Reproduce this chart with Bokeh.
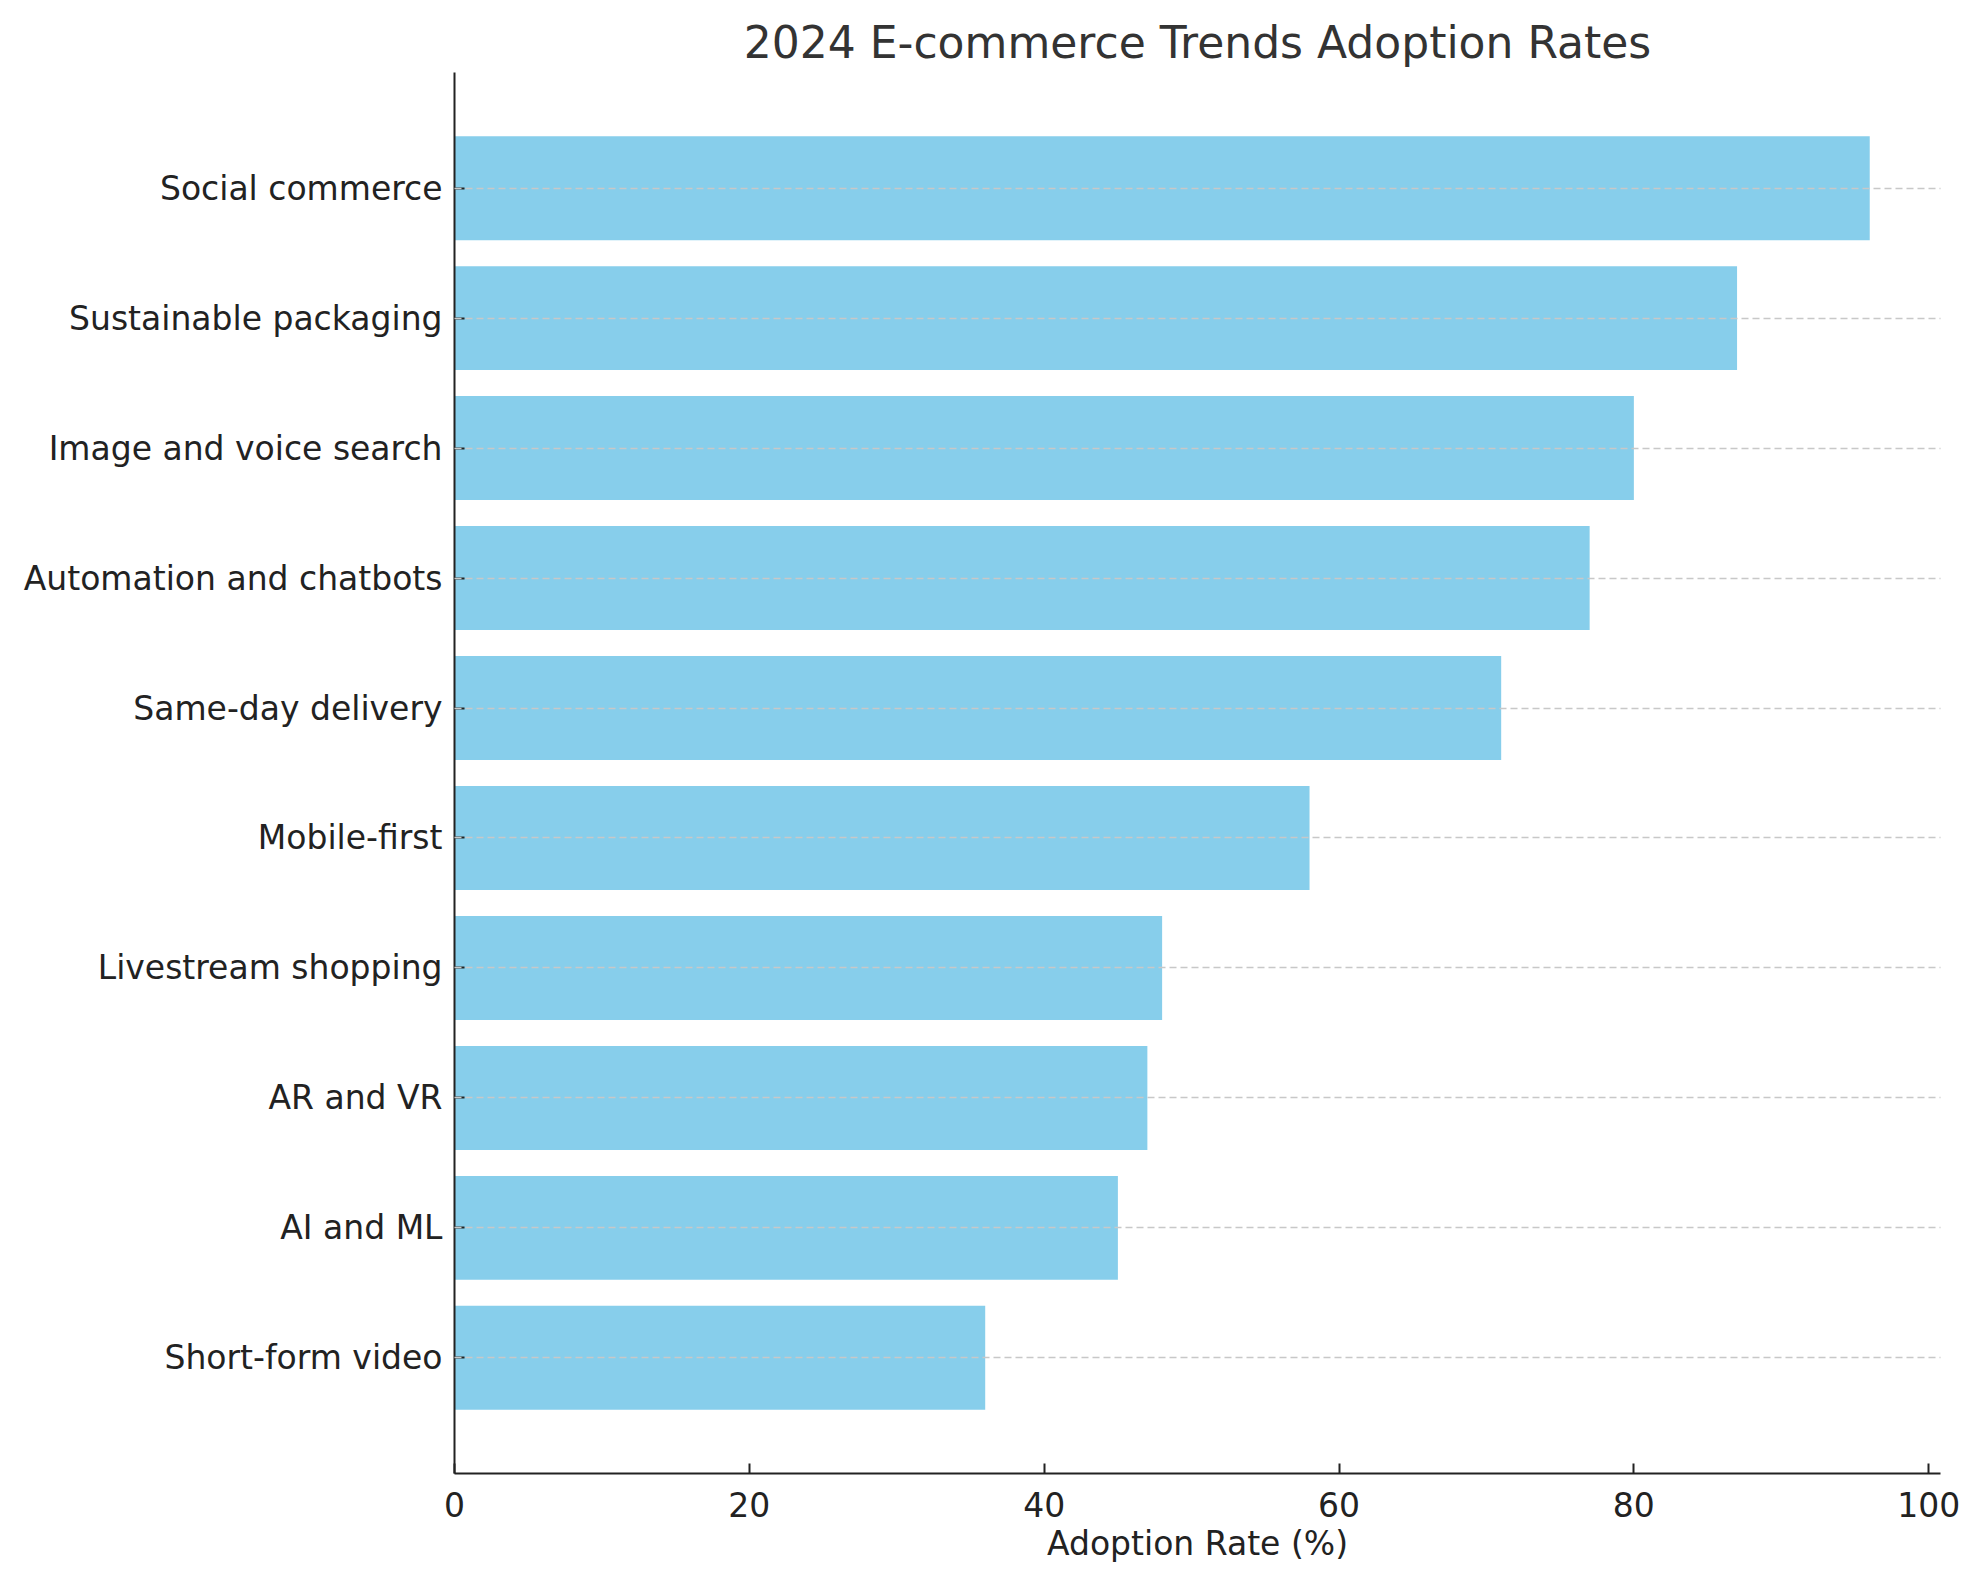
from bokeh.plotting import figure
from bokeh.models import FactorRange, Range1d, FixedTicker
from bokeh.embed import file_html
from bokeh.resources import INLINE

# data, listed from bottom bar to top bar
trends = ["Short-form video", "AI and ML", "AR and VR", "Livestream shopping",
          "Mobile-first", "Same-day delivery", "Automation and chatbots",
          "Image and voice search", "Sustainable packaging", "Social commerce"]
adoption = [36, 45, 47, 48, 58, 71, 77, 80, 87, 96]
x_ticks = [0, 20, 40, 60, 80, 100]

FONT = "DejaVu Sans"

p = figure(
    width=1972, height=1572,
    y_range=FactorRange(factors=trends, range_padding=0.078, range_padding_units="percent"),
    x_range=Range1d(0, 100.8),
    title="2024 E-commerce Trends Adoption Rates",
    x_axis_label="Adoption Rate (%)",
    min_border_left=454, min_border_right=32,
    min_border_top=72, min_border_bottom=99,
    toolbar_location=None,
    output_backend="svg")

p.hbar(y=trends, right=adoption, left=0, height=0.8, fill_color="#87ceeb", line_color=None)

p.title.text_font = FONT
p.title.text_font_size = "44px"
p.title.text_font_style = "normal"
p.title.text_color = "#333333"
p.title.align = "center"

p.outline_line_color = None
p.xgrid.grid_line_color = None
p.ygrid.grid_line_color = "#c8c8c8"
p.ygrid.grid_line_dash = "7 4"
p.ygrid.grid_line_width = 1.4
p.ygrid.level = "overlay"

p.xaxis.ticker = FixedTicker(ticks=x_ticks)
for ax in [p.xaxis[0], p.yaxis[0]]:
    ax.axis_line_color = "#222222"
    ax.axis_line_width = 2
    ax.major_tick_line_color = "#222222"
    ax.major_tick_line_width = 2
    ax.major_tick_in = 10
    ax.major_tick_out = 0
    ax.minor_tick_line_color = None
    ax.major_label_text_font = FONT
    ax.major_label_text_font_size = "33px"
    ax.major_label_text_color = "#222222"
    ax.axis_label_text_font = FONT
    ax.axis_label_text_font_size = "33px"
    ax.axis_label_text_font_style = "normal"
    ax.axis_label_text_color = "#222222"

p.yaxis.major_label_standoff = 12
p.xaxis.major_label_standoff = 18
p.xaxis.axis_label_standoff = 4

open("out.html", "w").write(file_html(p, INLINE))
